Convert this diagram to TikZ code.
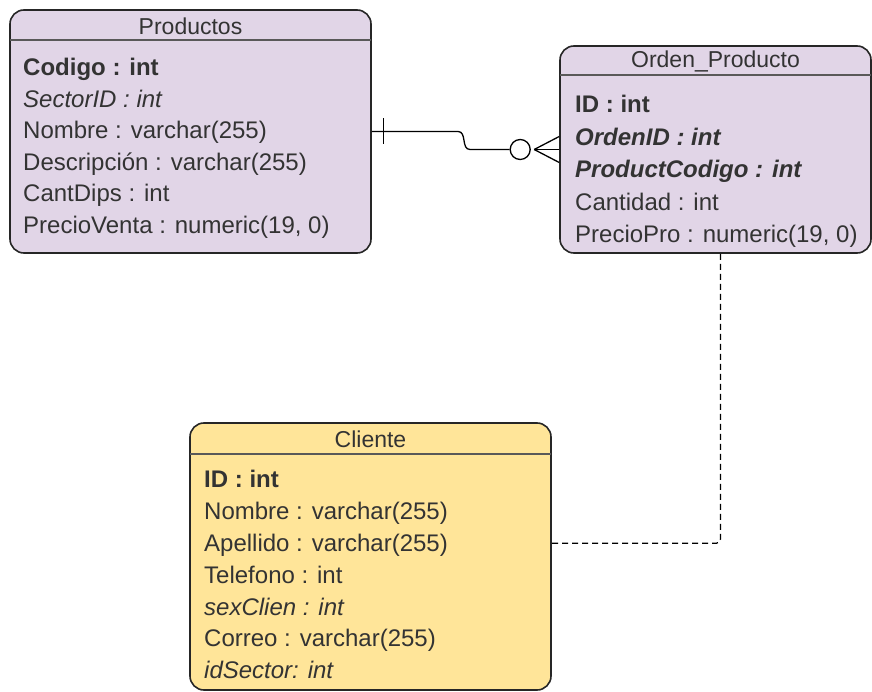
\documentclass[tikz,border=0pt]{standalone}
\usepackage{fontspec}
\setmainfont{Liberation Sans}
\usetikzlibrary{calc,positioning}
\definecolor{lilac}{HTML}{E1D5E7}
\definecolor{sand}{HTML}{FFE599}
\definecolor{ink}{HTML}{333333}

\begin{document}
\begin{tikzpicture}[x=1pt, y=-1pt,
  table/.style={draw=black!85, line width=1.6pt, rounded corners=14pt, inner sep=0pt},
  headline/.style={draw=black!65, line width=2.4pt},
  title/.style={inner sep=0pt, font=\fontsize{23}{26}\selectfont, text=ink},
  row/.style={anchor=west, inner sep=0pt, text height=0.72em, text depth=0pt,
              font=\fontsize{24}{28}\selectfont, text=ink},
  link/.style={line width=1.3pt, black}]
  \useasboundingbox (0,0) rectangle (872,692);

  % tables
  \node[table, fill=lilac, minimum width=361pt, minimum height=243pt] (prod) at (190.5,131.5) {};
  \node[table, fill=lilac, minimum width=311pt, minimum height=207pt] (ord) at (715.5,149.5) {};
  \node[table, fill=sand, minimum width=361pt, minimum height=267pt] (cli) at (370.5,556.5) {};

  \draw[headline] ($(prod.north west)+(0.8,31)$) -- ($(prod.north east)+(-0.8,31)$);
  \draw[headline] ($(ord.north west)+(0.8,30)$) -- ($(ord.north east)+(-0.8,30)$);
  \draw[headline] ($(cli.north west)+(0.8,32)$) -- ($(cli.north east)+(-0.8,32)$);

  \node[title] (prodT) at (190.5,26) {Productos};
  \node[title] (ordT) at (715.5,61) {Orden\_Producto};
  \node[title] (cliT) at (370.5,439) {Cliente};

  % Productos
  \node[row] (p1) at (23,72) {\textbf{Codigo : int}};
  \node[row] (p2) at (23,103.5) {\textit{SectorID : int}};
  \node[row] (p3) at (23,135) {Nombre : varchar(255)};
  \node[row] (p4) at (23,166.5) {Descripción : varchar(255)};
  \node[row] (p5) at (23,198) {CantDips : int};
  \node[row] (p6) at (23,229.5) {PrecioVenta : numeric(19, 0)};

  % Orden_Producto
  \node[row] (o1) at (575,109) {\textbf{ID : int}};
  \node[row] (o2) at (575,141.5) {\textbf{\textit{OrdenID : int}}};
  \node[row] (o3) at (575,174) {\textbf{\textit{ProductCodigo : int}}};
  \node[row] (o4) at (575,206.5) {Cantidad : int};
  \node[row] (o5) at (575,239) {PrecioPro : numeric(19, 0)};

  % Cliente
  \node[row] (c1) at (204,484) {\textbf{ID : int}};
  \node[row] (c2) at (204,516) {Nombre : varchar(255)};
  \node[row] (c3) at (204,548) {Apellido : varchar(255)};
  \node[row] (c4) at (204,580) {Telefono : int};
  \node[row] (c5) at (204,611.5) {\textit{sexClien : int}};
  \node[row] (c6) at (204,643) {Correo : varchar(255)};
  \node[row] (c7) at (204,674.5) {\textit{idSector: int}};

  % Productos -- Orden_Producto
  \node[draw, link, circle, minimum size=20pt, inner sep=0pt] (zero) at ($(ord.west)+(-39,0)$) {};
  \coordinate (foot) at ($(ord.west)+(-25,0)$);
  \draw[link] (prod.east) -- (458,131.5) .. controls (467,131.5) and (461,149.5) .. (470,149.5) -- (zero.west);
  \draw[link] ($(prod.east)+(12,-13)$) -- ++(0,26);
  \draw[link] (foot) -- ($(ord.west)+(0,-13)$);
  \draw[link] (foot) -- (ord.west);
  \draw[link] (foot) -- ($(ord.west)+(0,13)$);

  % Orden_Producto -- Cliente
  \draw[link, dash pattern=on 6pt off 4pt, rounded corners=4pt]
    ($(ord.south)+(5,0)$) |- ($(cli.north east)+(0,121)$);
\end{tikzpicture}
\end{document}
